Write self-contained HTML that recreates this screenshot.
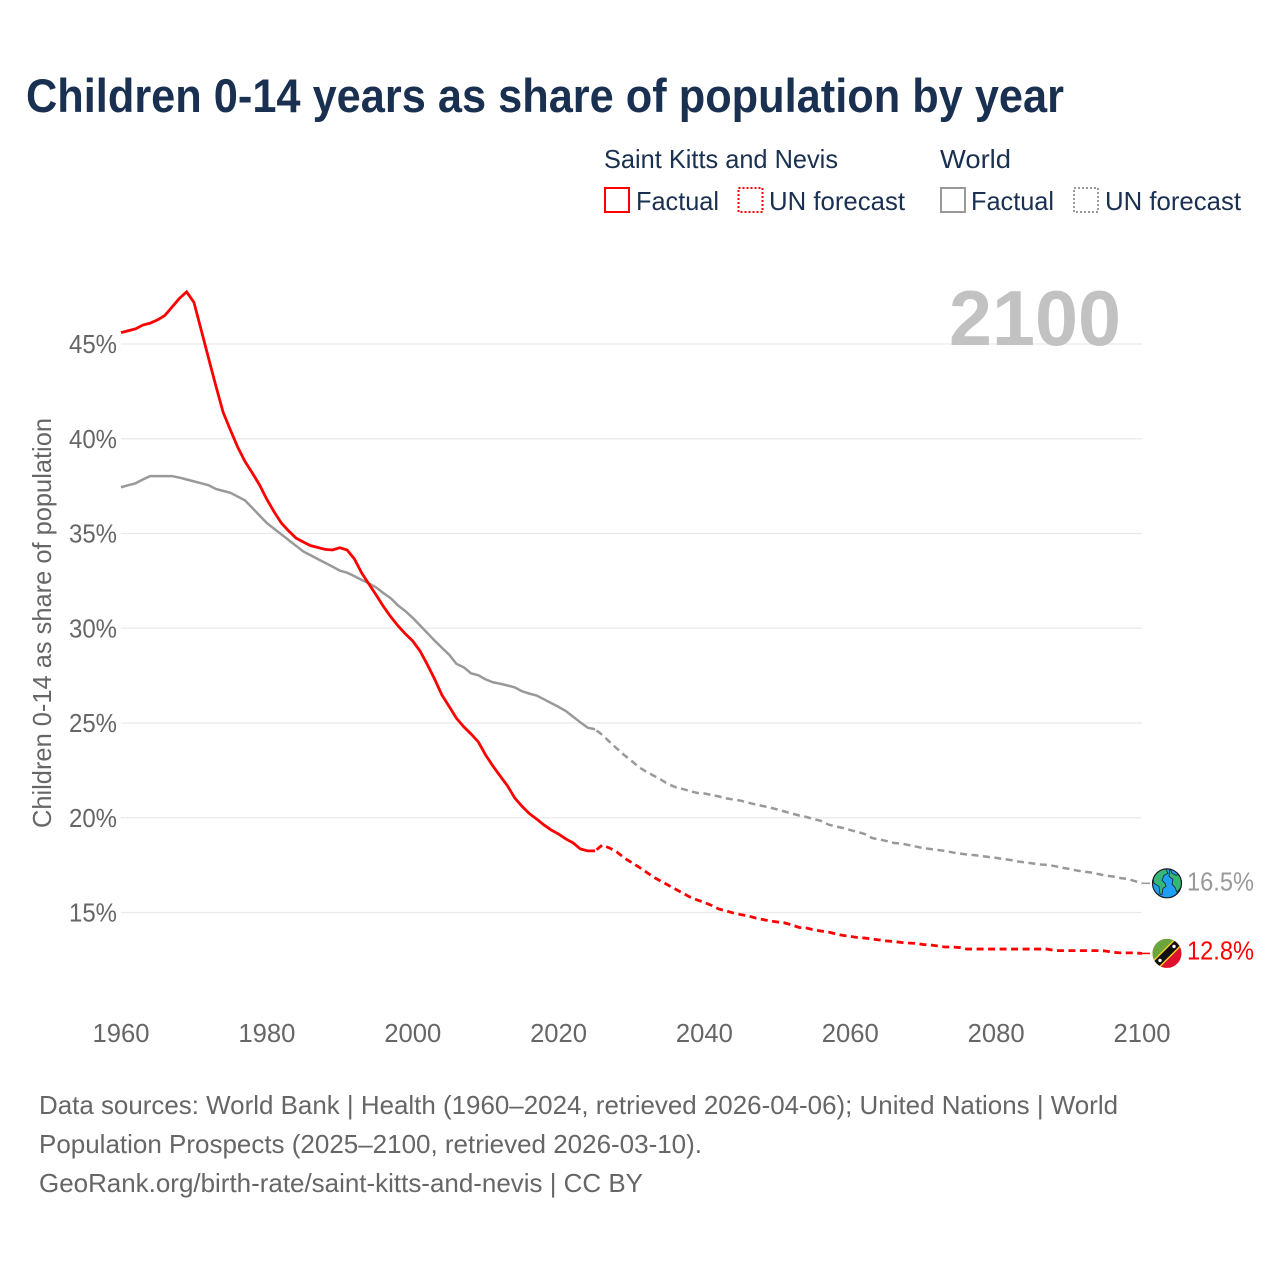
<!DOCTYPE html>
<html lang="en">
<head>
<meta charset="utf-8">
<title>Children 0-14 years as share of population by year</title>
<style>
  html, body { margin: 0; padding: 0; background: #ffffff; }
  svg { display: block; }
  text { font-family: "Liberation Sans", sans-serif; }
</style>
</head>
<body>
<svg id="chart" xmlns="http://www.w3.org/2000/svg" width="1280" height="1280" viewBox="0 0 1280 1280">
  <rect x="0" y="0" width="1280" height="1280" fill="#ffffff"/>
  <text x="26" y="112" font-size="47" font-weight="700" fill="#1a3050" textLength="1038" lengthAdjust="spacingAndGlyphs">Children 0-14 years as share of population by year</text>

  <g fill="#1a3050" font-size="26">
    <text x="604" y="168" textLength="234" lengthAdjust="spacingAndGlyphs">Saint Kitts and Nevis</text>
    <text x="940" y="168" textLength="71" lengthAdjust="spacingAndGlyphs">World</text>
    <rect x="605" y="188" width="24" height="24" fill="none" stroke="#ff0000" stroke-width="2"/>
    <text x="636" y="210" textLength="83" lengthAdjust="spacingAndGlyphs">Factual</text>
    <rect x="738.5" y="188" width="24" height="24" fill="none" stroke="#ff0000" stroke-width="2" stroke-dasharray="2 2"/>
    <text x="769" y="210" textLength="136" lengthAdjust="spacingAndGlyphs">UN forecast</text>
    <rect x="941" y="188" width="24" height="24" fill="none" stroke="#999999" stroke-width="2"/>
    <text x="971" y="210" textLength="83" lengthAdjust="spacingAndGlyphs">Factual</text>
    <rect x="1074" y="188" width="24" height="24" fill="none" stroke="#999999" stroke-width="2" stroke-dasharray="2 2"/>
    <text x="1105" y="210" textLength="136" lengthAdjust="spacingAndGlyphs">UN forecast</text>
  </g>

  <g id="grid"></g>
  <text x="949" y="345" font-size="78" font-weight="700" fill="#c2c2c2" textLength="172" lengthAdjust="spacingAndGlyphs">2100</text>
  <g id="y-axis"></g>
  <g id="x-axis"></g>
  <text transform="translate(51,828) rotate(-90)" font-size="26" fill="#666666" textLength="410" lengthAdjust="spacingAndGlyphs">Children 0-14 as share of population</text>
  <g id="series"></g>

  <defs>
    <clipPath id="flag-clip"><circle cx="0" cy="0" r="14.5"/></clipPath>
  </defs>
  <g id="marker-world">
    <g clip-path="url(#flag-clip)">
      <circle cx="0" cy="0" r="15" fill="#1ea0f5"/>
      <path d="M-14,-6 C-10,-13 -3,-15 -1,-14 L1,-10 L-3,-8 L-5,-3 L-2,0 L-1,3 L-4,5 L-5,11 L-7,11 L-8,3 L-13,0 Z" fill="#35b877" stroke="#123" stroke-width="0.8"/>
      <path d="M3,-15 L5,-10 L9,-8 L12,-9 L15,-4 L14,4 L10,9 L8,4 L5,1 L6,-4 L2,-7 Z" fill="#35b877" stroke="#123" stroke-width="0.8"/>
    </g>
    <circle cx="0" cy="0" r="14.5" fill="none" stroke="#1a1a1a" stroke-width="1.2"/>
  </g>
  <g id="marker-kitts">
    <g clip-path="url(#flag-clip)">
      <rect x="-16" y="-16" width="32" height="32" fill="#e0102d"/>
      <path d="M-16,-16 L16,-16 L-16,16 Z" fill="#6ba63c"/>
      <path d="M-16,9 L9,-16 L16,-16 L16,-9 L-9,16 L-16,16 Z" fill="#f6d21f"/>
      <path d="M-16,11 L11,-16 L16,-16 L16,-11 L-11,16 L-16,16 Z" fill="#111111"/>
      <circle cx="-7" cy="7" r="1.7" fill="#ffffff"/>
      <circle cx="7" cy="-7" r="1.7" fill="#ffffff"/>
    </g>
  </g>
  <g id="end-labels"></g>

  <g font-size="26" fill="#666666">
    <text x="39" y="1114" textLength="1079" lengthAdjust="spacingAndGlyphs">Data sources: World Bank | Health (1960–2024, retrieved 2026-04-06); United Nations | World</text>
    <text x="39" y="1153" textLength="663" lengthAdjust="spacingAndGlyphs">Population Prospects (2025–2100, retrieved 2026-03-10).</text>
    <text x="39" y="1192" textLength="604" lengthAdjust="spacingAndGlyphs">GeoRank.org/birth-rate/saint-kitts-and-nevis | CC BY</text>
  </g>
</svg>

<script>
// Chart data (percent of population by year).
const factualStartYear = 1960;
const forecastStartYear = 2025;
const xTickYears = [1960, 1980, 2000, 2020, 2040, 2060, 2080, 2100];
const yTickValues = [15, 20, 25, 30, 35, 40, 45];

const kittsFactual = [
  45.6, 45.7, 45.8, 46.0, 46.1, 46.27, 46.5, 46.95, 47.4, 47.75,
  47.2, 45.74, 44.26, 42.8, 41.4, 40.46, 39.56, 38.8, 38.2, 37.56,
  36.8, 36.14, 35.55, 35.13, 34.76, 34.55, 34.36, 34.26, 34.16, 34.13,
  34.25, 34.13, 33.66, 32.92, 32.33, 31.75, 31.14, 30.6, 30.12, 29.7,
  29.33, 28.8, 28.09, 27.32, 26.48, 25.87, 25.25, 24.8, 24.42, 24.0,
  23.31, 22.73, 22.2, 21.68, 21.04, 20.6, 20.22, 19.93, 19.62, 19.35,
  19.14, 18.88, 18.67, 18.35, 18.25, 18.25
];
const kittsForecast = [
  18.25, 18.56, 18.4, 18.19, 17.88,
  17.64, 17.4, 17.14, 16.87, 16.66, 16.45, 16.24, 16.03, 15.82, 15.66,
  15.53, 15.37, 15.18, 15.08, 14.97, 14.89, 14.82, 14.71, 14.63, 14.55,
  14.5, 14.45, 14.34, 14.21, 14.18, 14.08, 14.02, 13.97, 13.87, 13.79,
  13.74, 13.68, 13.65, 13.6, 13.55, 13.5, 13.47, 13.42, 13.39, 13.37,
  13.31, 13.29, 13.23, 13.18, 13.18, 13.15, 13.07, 13.07, 13.07, 13.07,
  13.07, 13.07, 13.07, 13.07, 13.07, 13.07, 13.07, 13.07, 12.99, 12.99,
  12.99, 12.99, 12.99, 12.99, 12.99, 12.97, 12.9, 12.87, 12.87, 12.87,
  12.84
];
const worldFactual = [
  37.44, 37.55, 37.65, 37.85, 38.03, 38.03, 38.03, 38.03, 37.95, 37.85,
  37.75, 37.65, 37.55, 37.35, 37.25, 37.15, 36.95, 36.75, 36.35, 35.95,
  35.55, 35.25, 34.95, 34.65, 34.35, 34.05, 33.85, 33.65, 33.45, 33.25,
  33.04, 32.93, 32.75, 32.55, 32.37, 32.15, 31.85, 31.58, 31.2, 30.9,
  30.55, 30.15, 29.75, 29.35, 28.97, 28.6, 28.12, 27.94, 27.62, 27.52,
  27.3, 27.15, 27.07, 26.98, 26.88, 26.67, 26.55, 26.45, 26.25, 26.05,
  25.85, 25.63, 25.33, 25.03, 24.75, 24.67
];
const worldForecast = [
  24.67, 24.37, 24.0, 23.65, 23.31,
  23.0, 22.68, 22.43, 22.23, 22.02, 21.78, 21.62, 21.52, 21.41, 21.31,
  21.28, 21.2, 21.12, 21.02, 20.96, 20.9, 20.8, 20.7, 20.62, 20.54,
  20.44, 20.33, 20.22, 20.12, 20.04, 19.93, 19.83, 19.64, 19.54, 19.46,
  19.35, 19.25, 19.14, 18.93, 18.85, 18.77, 18.67, 18.64, 18.56, 18.48,
  18.4, 18.35, 18.3, 18.25, 18.17, 18.11, 18.06, 18.03, 17.98, 17.93,
  17.88, 17.82, 17.77, 17.69, 17.64, 17.59, 17.53, 17.51, 17.45, 17.37,
  17.3, 17.22, 17.16, 17.11, 17.03, 16.95, 16.9, 16.82, 16.77, 16.66,
  16.54
];

// Axis functions
const SVG_NS = 'http://www.w3.org/2000/svg';
const plotLeft = 121, plotRight = 1142;
function xScale(year) { return plotLeft + (year - 1960) * (plotRight - plotLeft) / 140; }
function yScale(value) { return 912.5 - (value - 15) * 18.95; }
function linePath(values, startYear) {
  return values.map(function (v, i) {
    return (i ? 'L' : 'M') + xScale(startYear + i).toFixed(2) + ',' + yScale(v).toFixed(2);
  }).join(' ');
}
function make(tag, parentId) {
  const el = document.createElementNS(SVG_NS, tag);
  document.getElementById(parentId).appendChild(el);
  return el;
}

// Gridlines and y ticks
yTickValues.forEach(function (v) {
  const line = make('line', 'grid');
  
  
  line.setAttribute('x1', plotLeft);
  line.setAttribute('x2', plotRight);
  line.setAttribute('y1', yScale(v));
  line.setAttribute('y2', yScale(v));
  line.setAttribute('stroke', '#e9e9e9');
  line.setAttribute('stroke-width', '1.2');

  const label = make('text', 'y-axis');
  
  
  label.setAttribute('x', 69);
  label.setAttribute('y', yScale(v) + 9);
  label.setAttribute('font-size', '26');
  label.setAttribute('fill', '#666666');
  label.setAttribute('textLength', '48');
  label.setAttribute('lengthAdjust', 'spacingAndGlyphs');
  label.textContent = v + '%';
});

// X ticks
xTickYears.forEach(function (year) {
  const label = make('text', 'x-axis');
  
  
  label.setAttribute('x', xScale(year) - 28.5);
  label.setAttribute('y', 1042);
  label.setAttribute('font-size', '26');
  label.setAttribute('fill', '#666666');
  label.setAttribute('textLength', '57');
  label.setAttribute('lengthAdjust', 'spacingAndGlyphs');
  label.textContent = year;
});

// World series
const worldFactualLine = make('path', 'series');


worldFactualLine.setAttribute('d', linePath(worldFactual, factualStartYear));
worldFactualLine.setAttribute('fill', 'none');
worldFactualLine.setAttribute('stroke', '#999999');
worldFactualLine.setAttribute('stroke-width', '2.5');

const worldForecastLine = make('path', 'series');


worldForecastLine.setAttribute('d', linePath(worldForecast, forecastStartYear));
worldForecastLine.setAttribute('fill', 'none');
worldForecastLine.setAttribute('stroke', '#999999');
worldForecastLine.setAttribute('stroke-width', '2.5');
worldForecastLine.setAttribute('stroke-dasharray', '7 4.5');
worldForecastLine.setAttribute('stroke-dashoffset', '-2');

// Saint Kitts series
const kittsFactualLine = make('path', 'series');


kittsFactualLine.setAttribute('d', linePath(kittsFactual, factualStartYear));
kittsFactualLine.setAttribute('fill', 'none');
kittsFactualLine.setAttribute('stroke', '#ff0000');
kittsFactualLine.setAttribute('stroke-width', '2.8');

const kittsForecastLine = make('path', 'series');


kittsForecastLine.setAttribute('d', linePath(kittsForecast, forecastStartYear));
kittsForecastLine.setAttribute('fill', 'none');
kittsForecastLine.setAttribute('stroke', '#ff0000');
kittsForecastLine.setAttribute('stroke-width', '2.8');
kittsForecastLine.setAttribute('stroke-dasharray', '7 4.5');
kittsForecastLine.setAttribute('stroke-dashoffset', '-2');

// End connectors, markers and value labels
const worldEnd = worldForecast[worldForecast.length - 1];
const kittsEnd = kittsForecast[kittsForecast.length - 1];

const worldConnector = make('line', 'series');


worldConnector.setAttribute('x1', plotRight);
worldConnector.setAttribute('x2', plotRight + 8);
worldConnector.setAttribute('y1', yScale(worldEnd));
worldConnector.setAttribute('y2', yScale(worldEnd));
worldConnector.setAttribute('stroke', '#999999');
worldConnector.setAttribute('stroke-width', '1.5');

const kittsConnector = make('line', 'series');


kittsConnector.setAttribute('x1', plotRight);
kittsConnector.setAttribute('x2', plotRight + 8);
kittsConnector.setAttribute('y1', yScale(kittsEnd));
kittsConnector.setAttribute('y2', yScale(kittsEnd));
kittsConnector.setAttribute('stroke', '#ff0000');
kittsConnector.setAttribute('stroke-width', '1.5');

document.getElementById('marker-world').setAttribute('transform', 'translate(1167,' + yScale(worldEnd) + ')');
document.getElementById('marker-kitts').setAttribute('transform', 'translate(1167,' + yScale(kittsEnd) + ')');

const worldLabel = make('text', 'end-labels');


worldLabel.setAttribute('x', 1187);
worldLabel.setAttribute('y', yScale(worldEnd) + 7);
worldLabel.setAttribute('font-size', '26');
worldLabel.setAttribute('fill', '#999999');
worldLabel.setAttribute('textLength', '67');
worldLabel.setAttribute('lengthAdjust', 'spacingAndGlyphs');
worldLabel.textContent = worldEnd.toFixed(1) + '%';

const kittsLabel = make('text', 'end-labels');


kittsLabel.setAttribute('x', 1187);
kittsLabel.setAttribute('y', yScale(kittsEnd) + 6);
kittsLabel.setAttribute('font-size', '26');
kittsLabel.setAttribute('fill', '#ff0000');
kittsLabel.setAttribute('textLength', '67');
kittsLabel.setAttribute('lengthAdjust', 'spacingAndGlyphs');
kittsLabel.textContent = kittsEnd.toFixed(1) + '%';
</script>
</body>
</html>
